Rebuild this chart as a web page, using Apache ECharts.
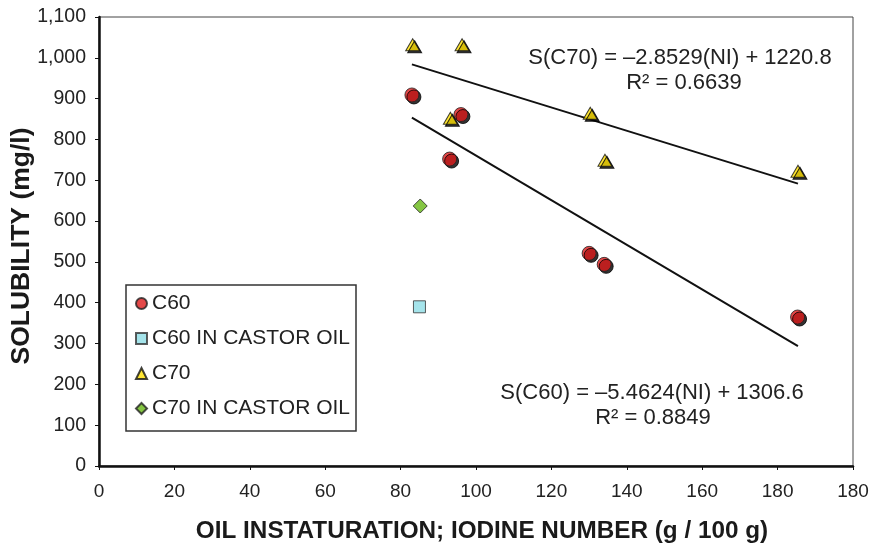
<!DOCTYPE html>
<html>
<head>
<meta charset="utf-8">
<script src="https://cdn.jsdelivr.net/npm/echarts@6/dist/echarts.min.js"></script>
<style>
html,body{margin:0;padding:0;background:#fff;}
#chart{width:873px;height:549px;}
</style>
</head>
<body>
<div id="chart"></div>
<script>
// ---- data ----
var seriesNames = ['C60', 'C60 IN CASTOR OIL', 'C70', 'C70 IN CASTOR OIL'];
var c60X = [83, 93, 96, 130, 134, 185.3];
var c60Y = [909, 752, 861, 521, 494, 365];
var c70X = [83.2, 93.2, 96.3, 130.3, 134.2, 185.4];
var c70Y = [1032, 852, 1032, 864, 749, 722];
var castorC60X = [85];
var castorC60Y = [390];
var castorC70X = [85.2];
var castorC70Y = [637];
// trend lines: slope, intercept (from equations on chart)
var trendC60 = [-5.4624, 1306.6];
var trendC70 = [-2.8529, 1220.8];
var trendRange = [83, 185.4];
var xTickLabels = ['0', '20', '40', '60', '80', '100', '120', '140', '160', '180', '180'];
var eqC70 = ['S(C70) = \u20132.8529(NI) + 1220.8', 'R\u00b2 = 0.6639'];
var eqC60 = ['S(C60) = \u20135.4624(NI) + 1306.6', 'R\u00b2 = 0.8849'];
var xTitle = 'OIL INSTATURATION; IODINE NUMBER (g / 100 g)';
var yTitle = 'SOLUBILITY (mg/l)';

function zip(xs, ys) { return xs.map(function (x, i) { return [x, ys[i]]; }); }
function trend(c) { return trendRange.map(function (x) { return [x, c[0] * x + c[1]]; }); }

var FONT = '"Liberation Sans", Arial, Helvetica, sans-serif';
var shadow = { shadowColor: '#000', shadowOffsetX: 2, shadowOffsetY: 2, shadowBlur: 0.5 };

var chart = echarts.init(document.getElementById('chart'), null, { renderer: 'canvas' });
chart.setOption({
  animation: false,
  backgroundColor: '#fff',
  textStyle: { fontFamily: FONT },
  grid: { left: 99, right: 20, top: 17, bottom: 83, show: true, borderColor: '#444', borderWidth: 1,
    containLabel: false, outerBoundsMode: 'none' },
  xAxis: {
    type: 'value', min: 0, max: 200, interval: 20,
    name: xTitle, nameLocation: 'middle', nameGap: 53, nameMoveOverlap: false,
    nameTextStyle: { fontFamily: FONT, fontSize: 24.3, fontWeight: 'bold', color: '#1a1a1a', padding: [0, 0, 0, 12] },
    axisLine: { lineStyle: { color: '#111', width: 2.5 } },
    axisTick: { show: true, length: 4, lineStyle: { color: '#111', width: 1 } },
    axisLabel: { fontSize: 19, color: '#222', margin: 16,
      formatter: function (v) { return xTickLabels[Math.round(v / 20)]; } },
    splitLine: { show: false }
  },
  yAxis: {
    type: 'value', min: 0, max: 1100, interval: 100,
    name: yTitle, nameLocation: 'middle', nameGap: 64, nameRotate: 90, nameMoveOverlap: false,
    nameTextStyle: { fontFamily: FONT, fontSize: 26.5, fontWeight: 'bold', color: '#1a1a1a', padding: [0, 9, 0, 0] },
    axisLine: { lineStyle: { color: '#111', width: 2.5 } },
    axisTick: { show: true, length: 4, lineStyle: { color: '#111', width: 1 } },
    axisLabel: { fontSize: 19.5, color: '#222', margin: 13,
      formatter: function (v) { return v.toString().replace(/\B(?=(\d{3})+(?!\d))/g, ','); } },
    splitLine: { show: false }
  },
  legend: {
    orient: 'vertical', left: 126, top: 285,
    backgroundColor: '#fff', borderColor: '#333', borderWidth: 1.5, borderRadius: 0,
    padding: [8, 6, 12, 9],
    itemWidth: 11, itemHeight: 11, itemGap: 14, itemTextGap: 4,
    textStyle: { fontFamily: FONT, fontSize: 21, color: '#222', lineHeight: 21 },
    itemStyle: { shadowColor: 'transparent', shadowOffsetX: 0, shadowOffsetY: 0, shadowBlur: 0 },
    data: [
      { name: seriesNames[0], icon: 'circle' },
      { name: seriesNames[1], icon: 'rect' },
      { name: seriesNames[2], icon: 'triangle' },
      { name: seriesNames[3], icon: 'diamond' }
    ]
  },
  graphic: [
    { type: 'text', x: 680, y: 58, style: { text: eqC70[0], font: '22px ' + FONT, fill: '#222', textAlign: 'center', textVerticalAlign: 'middle' } },
    { type: 'text', x: 684, y: 83, style: { text: eqC70[1], font: '22px ' + FONT, fill: '#222', textAlign: 'center', textVerticalAlign: 'middle' } },
    { type: 'text', x: 652, y: 393, style: { text: eqC60[0], font: '22px ' + FONT, fill: '#222', textAlign: 'center', textVerticalAlign: 'middle' } },
    { type: 'text', x: 653, y: 418, style: { text: eqC60[1], font: '22px ' + FONT, fill: '#222', textAlign: 'center', textVerticalAlign: 'middle' } }
  ],
  series: [
    { name: 'trendC60', type: 'line', data: trend(trendC60), symbol: 'none',
      lineStyle: { color: '#111', width: 2 }, silent: true, z: 1 },
    { name: 'trendC70', type: 'line', data: trend(trendC70), symbol: 'none',
      lineStyle: { color: '#111', width: 2 }, silent: true, z: 1 },
    { name: seriesNames[0], type: 'scatter', data: zip(c60X, c60Y), symbol: 'circle', symbolSize: 14, z: 3,
      itemStyle: Object.assign({ color: '#dd1a1a', borderColor: '#222', borderWidth: 1 }, shadow) },
    { name: seriesNames[1], type: 'scatter', data: zip(castorC60X, castorC60Y), symbol: 'rect', symbolSize: 12, z: 3,
      itemStyle: { color: '#8fdde6', borderColor: '#333', borderWidth: 1 } },
    { name: seriesNames[2], type: 'scatter', data: zip(c70X, c70Y), symbol: 'triangle', symbolSize: [14, 12], z: 3,
      itemStyle: Object.assign({ color: '#ffe000', borderColor: '#111', borderWidth: 1 }, shadow) },
    { name: seriesNames[3], type: 'scatter', data: zip(castorC70X, castorC70Y), symbol: 'diamond', symbolSize: [14, 14], z: 3,
      itemStyle: { color: '#66b814', borderColor: '#222', borderWidth: 1 } }
  ]
});
</script>
</body>
</html>
